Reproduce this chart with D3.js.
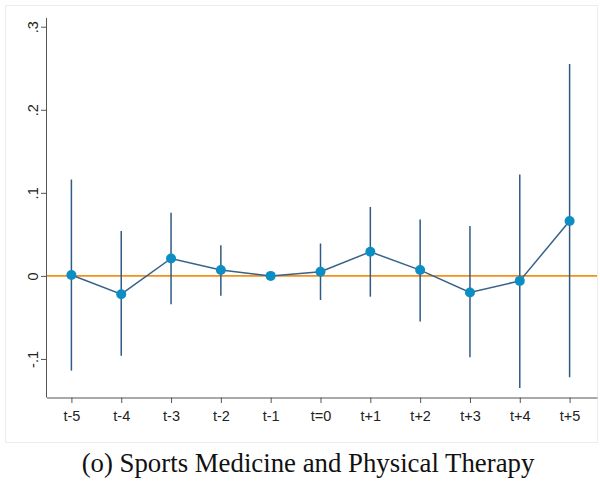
<!DOCTYPE html>
<html>
<head>
<meta charset="utf-8">
<script src="https://cdn.jsdelivr.net/npm/d3@7"></script>
<style>
  html, body { margin: 0; padding: 0; background: #fff; }
  svg { display: block; }
</style>
</head>
<body>
<svg id="chart" width="600" height="485"></svg>
<script>
// Event-study estimates with 95% confidence intervals
const periods = ["t-5", "t-4", "t-3", "t-2", "t-1", "t=0", "t+1", "t+2", "t+3", "t+4", "t+5"];
const offsets = [-5, -4, -3, -2, -1, 0, 1, 2, 3, 4, 5];
const estimates = [0.001, -0.022, 0.021, 0.007, 0.000, 0.005, 0.029, 0.007, -0.020, -0.006, 0.066];
const ciLower = [-0.114, -0.096, -0.034, -0.024, null, -0.029, -0.025, -0.055, -0.098, -0.135, -0.122];
const ciUpper = [0.116, 0.054, 0.076, 0.037, null, 0.039, 0.083, 0.068, 0.060, 0.122, 0.255];
const yTickValues = [-0.1, 0, 0.1, 0.2, 0.3];
const yTickLabels = ["-.1", "0", ".1", ".2", ".3"];
const caption = "(o) Sports Medicine and Physical Therapy";

const svg = d3.select("#chart");

// faint frame around the graph region
svg.append("rect")
  .attr("x", 5.5).attr("y", 5.5).attr("width", 592).attr("height", 437)
  .attr("fill", "none").attr("stroke", "#ececec").attr("stroke-width", 1);

const x = d3.scaleLinear().domain([-5.5, 5.55]).range([46.5, 597]);
const y = d3.scaleLinear().domain([-0.1464, 0.3105]).range([397.5, 18]);

const pts = offsets.map((o, i) => ({
  o, label: periods[i], est: estimates[i], lo: ciLower[i], hi: ciUpper[i]
}));

// reference line at zero
svg.append("line")
  .attr("x1", x(-5.5)).attr("x2", x(5.55))
  .attr("y1", y(0)).attr("y2", y(0))
  .attr("stroke", "#f39019").attr("stroke-width", 1.6);

// confidence intervals
svg.append("g").selectAll("line")
  .data(pts.filter(d => d.lo !== null))
  .join("line")
  .attr("x1", d => x(d.o)).attr("x2", d => x(d.o))
  .attr("y1", d => y(d.lo)).attr("y2", d => y(d.hi))
  .attr("stroke", "#2f5b85").attr("stroke-width", 1.5);

// connecting line
svg.append("path")
  .datum(pts)
  .attr("fill", "none")
  .attr("stroke", "#36618a").attr("stroke-width", 1.5)
  .attr("d", d3.line().x(d => x(d.o)).y(d => y(d.est)));

// point estimates
svg.append("g").selectAll("circle")
  .data(pts)
  .join("circle")
  .attr("cx", d => x(d.o)).attr("cy", d => y(d.est))
  .attr("r", 5)
  .attr("fill", "#0b8ec3");

// y axis with rotated labels
const yAxis = d3.axisLeft(y)
  .tickValues(yTickValues)
  .tickFormat((d, i) => yTickLabels[i])
  .tickSize(5.5).tickSizeOuter(0);
const gy = svg.append("g").attr("transform", "translate(46.5,0)").call(yAxis);
gy.select(".domain").attr("d", `M0,${y(0.3105)}V${y(-0.1464)}`);
gy.selectAll("line, path").attr("stroke", "#555").attr("stroke-width", 1);
gy.selectAll("text")
  .attr("font-family", "Liberation Sans, Arial, sans-serif")
  .attr("font-size", 14.5).attr("fill", "#222")
  .attr("x", 0).attr("y", 0).attr("dy", null)
  .attr("text-anchor", "middle")
  .attr("transform", "translate(-9,0) rotate(-90)");

// x axis
const xAxis = d3.axisBottom(x)
  .tickValues(offsets)
  .tickFormat((d, i) => periods[i])
  .tickSize(5.5).tickSizeOuter(0);
const gx = svg.append("g").attr("transform", "translate(0,397.5)").call(xAxis);
gx.selectAll("line, path").attr("stroke", "#555").attr("stroke-width", 1);
gx.selectAll("text")
  .attr("font-family", "Liberation Sans, Arial, sans-serif")
  .attr("font-size", 14.5).attr("fill", "#222")
  .attr("y", 13.5);

// caption
const cap = svg.append("text")
  .attr("x", 308).attr("y", 472)
  .attr("text-anchor", "middle")
  .attr("font-family", "Liberation Serif, 'DejaVu Serif', serif")
  .attr("font-size", 20).attr("fill", "#111")
  .text(caption);
const w = cap.node().getComputedTextLength();
cap.attr("font-size", 20 * 453 / w);
</script>
</body>
</html>
